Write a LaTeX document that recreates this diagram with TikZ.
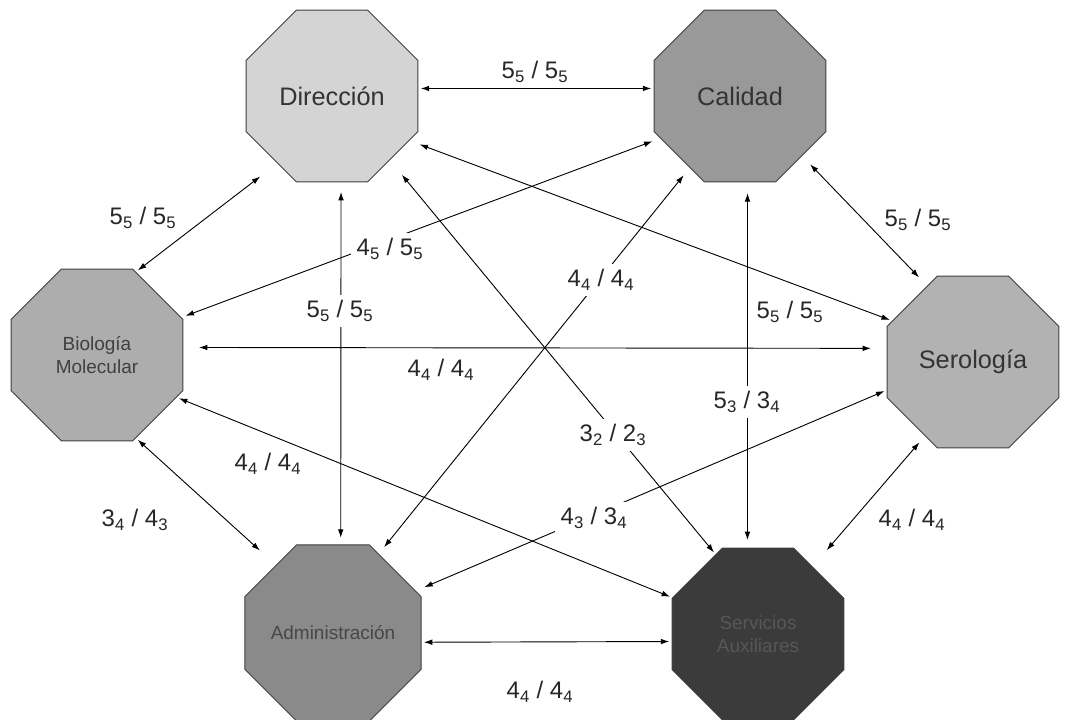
\documentclass[tikz,border=0pt]{standalone}
\usepackage{fontspec}
\setmainfont{Liberation Sans}
\usetikzlibrary{shapes.geometric,arrows.meta}

\newcommand{\score}[4]{#1\textsubscript{#2} / #3\textsubscript{#4}}

\tikzset{
	area/.style={regular polygon, regular polygon sides=8, minimum size=4.65cm,
		draw=black!75, line width=0.7pt, inner sep=0pt, outer sep=0pt, align=center},
	big/.style={font=\fontsize{18}{20}\selectfont, text=black!80},
	small/.style={font=\fontsize{13.5}{16}\selectfont, text=black!75},
	link/.style={{Latex[length=6pt,width=4pt]}-{Latex[length=6pt,width=4pt]},
		line width=0.65pt, shorten <=0.07cm, shorten >=0.07cm},
	lbl/.style={font=\fontsize{17}{19}\selectfont, text=black!85, inner sep=1pt},
	onlink/.style={lbl, fill=white, inner sep=4pt}
}

\begin{document}
\begin{tikzpicture}[x=0.025cm, y=-0.025cm]
	\useasboundingbox (0,0) rectangle (1068,720);

	% areas
	\node[area, big, fill=black!17] (dir) at (332,96) {Dirección};
	\node[area, big, fill=black!40] (cal) at (740,96) {Calidad};
	\node[area, small, fill=black!32] (bio) at (97,355) {Biología\\Molecular};
	\node[area, big, fill=black!30] (ser) at (973,362) {Serología};
	\node[area, small, fill=black!46, text=black!72] (adm) at (333,633) {Administración};
	\node[area, small, fill=black!77, text=black!66] (aux) at (758,634) {Servicios\\Auxiliares};

	% relations
	\draw[link] (dir.5) -- (cal.175);
	\draw[link, shorten <=0.55cm] (dir.231) -- (bio.65);
	\draw[link, shorten <=0.3cm, shorten >=0.3cm] (cal.-44) -- (ser.121);
	\draw[link, shorten >=0.55cm] (bio.-65) -- (adm.130);
	\draw[link, shorten <=0.22cm, shorten >=0.55cm] (ser.237) -- (aux.51);
	\draw[link] (adm.-6) -- (aux.185);
	\draw[link, shorten <=0.4cm, shorten >=0.4cm] (bio.5) -- (ser.171);
	\draw[link, shorten <=0.25cm, shorten >=0.18cm] (dir.-84) -- (adm.85);
	\draw[link, shorten <=0.28cm, shorten >=0.2cm] (cal.-85) -- (aux.97);
	\draw[link, shorten <=0.28cm] (dir.-30) -- (ser.153);
	\draw[link, shorten <=0.22cm, shorten >=0.12cm] (cal.208) -- (bio.24);
	\draw[link, shorten <=0.25cm, shorten >=0.22cm] (cal.235) -- (adm.60);
	\draw[link, shorten <=0.48cm] (dir.-48) -- (aux.118);
	\draw[link] (bio.-28) -- (aux.157);
	\draw[link, shorten >=0.24cm] (ser.198) -- (adm.27);

	% values
	\node[lbl] (l1) at (535,72) {\score5555};
	\node[lbl] (l2) at (143,218) {\score5555};
	\node[lbl] (l3) at (918,220) {\score5555};
	\node[lbl] (l4) at (135,520) {\score3443};
	\node[lbl] (l5) at (912,520) {\score4444};
	\node[lbl] (l6) at (540,692) {\score4444};
	\node[lbl] (l7) at (441,370) {\score4444};
	\node[onlink] (l8) at (340,311) {\score5555};
	\node[onlink] (l9) at (747,402) {\score5334};
	\node[lbl] (l10) at (790,312) {\score5555};
	\node[onlink] (l11) at (390,249) {\score4555};
	\node[onlink] (l12) at (601,280) {\score4444};
	\node[onlink] (l13) at (613,435) {\score3223};
	\node[lbl] (l14) at (268,464) {\score4444};
	\node[onlink] (l15) at (594,518) {\score4334};
\end{tikzpicture}
\end{document}
